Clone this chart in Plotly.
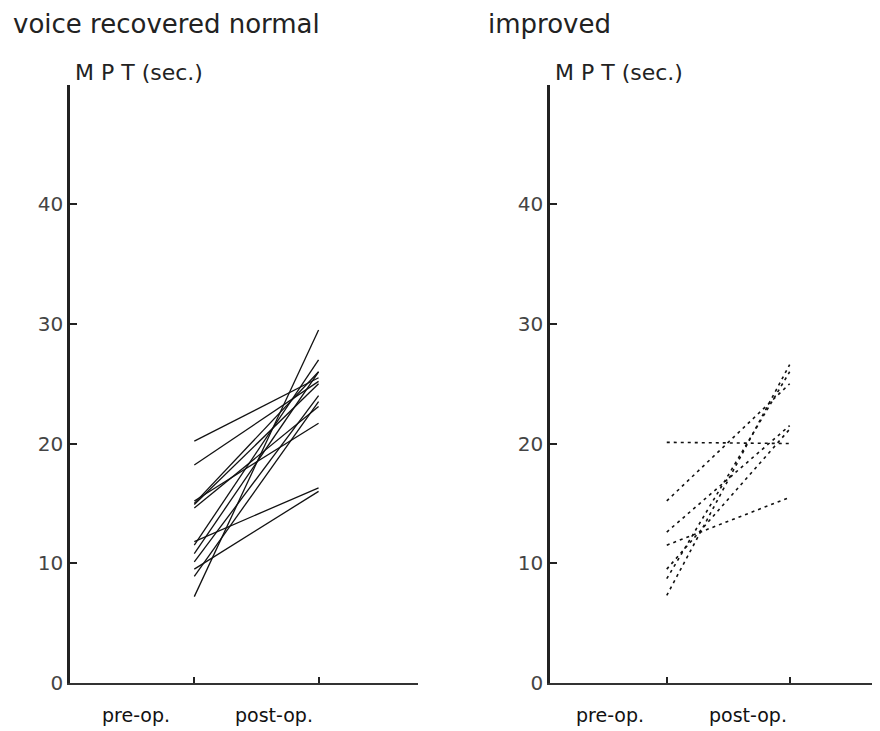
import plotly.graph_objects as go

# ---- data ----
x_positions = [1, 2]
x_labels = ["pre-op.", "post-op."]
y_ticks = [0, 10, 20, 30, 40]
y_label = "M P T (sec.)"
left_title = "voice recovered normal"
right_title = "improved"

normal_pre = [20.2, 18.2, 15.2, 15.0, 14.9, 14.6, 11.8, 11.5, 10.8, 10.1, 9.5, 8.9, 7.2]
normal_post = [25.5, 25.2, 21.7, 26.0, 25.0, 23.1, 16.3, 27.0, 26.0, 24.0, 16.0, 23.5, 29.5]

improved_pre = [20.1, 15.2, 12.6, 11.5, 9.5, 8.7, 7.3]
improved_post = [20.0, 25.0, 21.5, 15.5, 21.2, 26.0, 26.6]

# ---- geometry (pixels of an 880 x 731 page) ----
W, H = 880, 731
y0_px, y_top_px = 686, 78
y_max = 50.0
font_family = "DejaVu Sans, sans-serif"

fig = go.Figure()

for a, b in zip(normal_pre, normal_post):
    fig.add_trace(go.Scatter(x=x_positions, y=[a, b], mode="lines",
                             line=dict(color="#111", width=1.3),
                             xaxis="x", yaxis="y", showlegend=False, hoverinfo="skip"))
for a, b in zip(improved_pre, improved_post):
    fig.add_trace(go.Scatter(x=x_positions, y=[a, b], mode="lines",
                             line=dict(color="#111", width=1.6, dash="3px,4px"),
                             xaxis="x2", yaxis="y2", showlegend=False, hoverinfo="skip"))

ydom = [1 - y0_px / H, 1 - y_top_px / H]

xax = dict(showgrid=False, zeroline=False, showline=True,
           linecolor="#333", linewidth=2, ticks="inside", ticklen=6, tickwidth=1.5,
           tickcolor="#222", tickvals=x_positions, showticklabels=False, fixedrange=True)
yax = dict(range=[0, y_max], showgrid=False, zeroline=False, showline=True,
           linecolor="#222", linewidth=2.5, ticks="inside", ticklen=7, tickwidth=2,
           tickcolor="#222", tickvals=y_ticks, ticktext=[str(v) for v in y_ticks],
           tickfont=dict(size=20, color="#444", family=font_family), fixedrange=True)

fig.update_layout(
    width=W, height=H,
    margin=dict(l=0, r=0, t=0, b=0),
    paper_bgcolor="white", plot_bgcolor="white",
    xaxis=dict(domain=[62 / W, 410 / W], range=[0.0, 2.8], anchor="y", **xax),
    yaxis=dict(domain=ydom, anchor="x", **yax),
    xaxis2=dict(domain=[542 / W, 1.0], range=[0.05, 2.8], anchor="y2", **xax),
    yaxis2=dict(domain=ydom, anchor="x2", **yax),
    font=dict(family=font_family, color="#222"),
)

ann = []
for txt, xpx in ((left_title, 3), (right_title, 478)):
    ann.append(dict(text=txt, x=xpx / W, y=1 - 16 / H, xref="paper", yref="paper",
                    xanchor="left", yanchor="middle", showarrow=False,
                    font=dict(size=26, color="#222", family=font_family)))
for xpx in (65, 545):
    ann.append(dict(text=y_label, x=xpx / W, y=1 - 66 / H, xref="paper", yref="paper",
                    xanchor="left", yanchor="middle", showarrow=False,
                    font=dict(size=22, color="#222", family=font_family)))
for centers in ((128, 266), (602, 740)):
    for cx, lab in zip(centers, x_labels):
        ann.append(dict(text=lab, x=cx / W, y=1 - 719 / H, xref="paper", yref="paper",
                        xanchor="center", yanchor="middle", showarrow=False,
                        font=dict(size=19, color="#111", family=font_family)))
fig.update_layout(annotations=ann)

fig.write_html("out.html")
